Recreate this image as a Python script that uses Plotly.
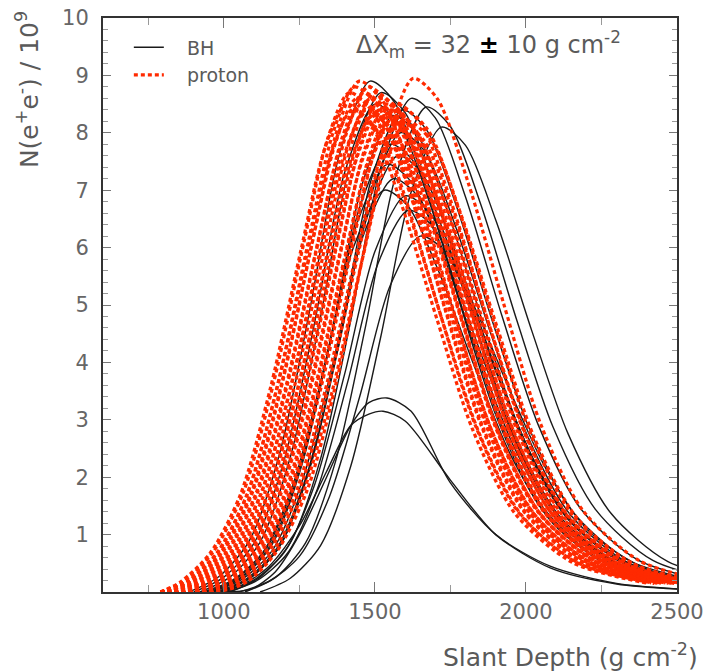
import plotly.graph_objects as go

# ---- BH (black solid) shower profiles: slant depth (g cm^-2) and N(e+e-)/1e9 ----
BH_X = [
    [884, 984, 1084, 1184, 1284, 1384, 1484, 1564, 1664, 1784, 1904, 2044, 2234, 2484],
    [1020, 1120, 1220, 1320, 1420, 1520, 1620, 1700, 1800, 1920, 2040, 2180, 2370, 2620],
    [1070, 1170, 1270, 1370, 1470, 1570, 1670, 1750, 1850, 1970, 2090, 2230, 2420, 2670],
    [1120, 1220, 1320, 1420, 1520, 1620, 1720, 1800, 1900, 2020, 2140, 2280, 2470, 2720],
    [960, 1060, 1160, 1260, 1360, 1460, 1560, 1640, 1740, 1860, 1980, 2120, 2310, 2560],
    [985, 1085, 1185, 1285, 1385, 1485, 1585, 1665, 1765, 1885, 2005, 2145, 2335, 2585],
    [950, 1050, 1150, 1250, 1350, 1450, 1550, 1630, 1730, 1850, 1970, 2110, 2300, 2550],
    [975, 1075, 1175, 1275, 1375, 1475, 1575, 1655, 1755, 1875, 1995, 2135, 2325, 2575],
    [940, 1040, 1140, 1240, 1340, 1440, 1540, 1620, 1720, 1840, 1960, 2100, 2290, 2540],
    [960, 1060, 1160, 1260, 1360, 1460, 1560, 1640, 1740, 1860, 1980, 2120, 2310, 2560],
    [930, 1030, 1130, 1230, 1330, 1430, 1530, 1610, 1710, 1830, 1950, 2090, 2280, 2530],
    [1000, 1100, 1200, 1300, 1400, 1500, 1600, 1680, 1780, 1900, 2020, 2160, 2350, 2600],
    [1010, 1110, 1210, 1310, 1410, 1510, 1610, 1690, 1790, 1910, 2030, 2170, 2360, 2610],
    [1050, 1150, 1250, 1350, 1450, 1550, 1650, 1730, 1830, 1950, 2070, 2210, 2400, 2650],
    [1000, 1090, 1170, 1250, 1340, 1420, 1480, 1540, 1620, 1750, 1900, 2080, 2300, 2550],
    [950, 1050, 1150, 1250, 1340, 1420, 1480, 1527, 1600, 1750, 1900, 2080, 2300, 2550],
    [900, 1000, 1100, 1200, 1300, 1400, 1500, 1580, 1680, 1800, 1920, 2060, 2250, 2500],
    [920, 1020, 1120, 1220, 1320, 1420, 1520, 1600, 1700, 1820, 1940, 2080, 2270, 2520],
    [990, 1090, 1190, 1290, 1390, 1490, 1590, 1670, 1770, 1890, 2010, 2150, 2340, 2590],
]
BH_Y = [
    [0, 0.27, 0.89, 2.40, 4.90, 7.65, 8.9, 8.54, 7.12, 4.98, 3.03, 1.51, 0.58, 0.18],
    [0, 0.26, 0.86, 2.32, 4.73, 7.40, 8.6, 8.26, 6.88, 4.82, 2.92, 1.46, 0.56, 0.17],
    [0, 0.25, 0.85, 2.28, 4.65, 7.27, 8.45, 8.11, 6.76, 4.73, 2.87, 1.44, 0.55, 0.17],
    [0, 0.24, 0.81, 2.19, 4.46, 6.97, 8.1, 7.78, 6.48, 4.54, 2.75, 1.38, 0.53, 0.16],
    [0, 0.25, 0.83, 2.24, 4.57, 7.14, 8.3, 7.97, 6.64, 4.65, 2.82, 1.41, 0.54, 0.17],
    [0, 0.24, 0.80, 2.16, 4.40, 6.88, 8.0, 7.68, 6.40, 4.48, 2.72, 1.36, 0.52, 0.16],
    [0, 0.23, 0.78, 2.11, 4.29, 6.71, 7.8, 7.49, 6.24, 4.37, 2.65, 1.33, 0.51, 0.16],
    [0, 0.23, 0.76, 2.05, 4.18, 6.54, 7.6, 7.30, 6.08, 4.26, 2.58, 1.29, 0.49, 0.15],
    [0, 0.22, 0.75, 2.01, 4.10, 6.41, 7.45, 7.15, 5.96, 4.17, 2.53, 1.27, 0.48, 0.15],
    [0, 0.22, 0.72, 1.94, 3.96, 6.19, 7.2, 6.91, 5.76, 4.03, 2.45, 1.22, 0.47, 0.14],
    [0, 0.21, 0.70, 1.89, 3.85, 6.02, 7.0, 6.72, 5.60, 3.92, 2.38, 1.19, 0.46, 0.14],
    [0, 0.21, 0.69, 1.86, 3.80, 5.93, 6.9, 6.62, 5.52, 3.86, 2.35, 1.17, 0.45, 0.14],
    [0, 0.20, 0.67, 1.80, 3.66, 5.72, 6.65, 6.38, 5.32, 3.72, 2.26, 1.13, 0.43, 0.13],
    [0, 0.19, 0.62, 1.67, 3.41, 5.33, 6.2, 5.95, 4.96, 3.47, 2.11, 1.05, 0.40, 0.12],
    [0, 0.05, 0.35, 1.0, 2.0, 2.9, 3.3, 3.38, 3.15, 1.9, 1.0, 0.45, 0.15, 0.04],
    [0, 0.1, 0.45, 1.15, 2.1, 2.9, 3.1, 3.15, 2.98, 1.95, 1.0, 0.42, 0.14, 0.04],
    [0, 0.26, 0.85, 2.30, 4.68, 7.31, 8.5, 8.16, 6.80, 4.76, 2.89, 1.45, 0.55, 0.17],
    [0, 0.26, 0.87, 2.35, 4.79, 7.48, 8.7, 8.35, 6.96, 4.87, 2.96, 1.48, 0.57, 0.17],
    [0, 0.25, 0.84, 2.27, 4.62, 7.22, 8.4, 8.06, 6.72, 4.70, 2.86, 1.43, 0.55, 0.17],
]

# ---- proton (red dashed) shower profiles ----
P_X = [
    [790, 855, 955, 1055, 1155, 1255, 1335, 1405, 1485, 1585, 1705, 1825, 1965, 2155, 2405],
    [790, 865, 965, 1065, 1165, 1265, 1345, 1415, 1495, 1595, 1715, 1835, 1975, 2165, 2415],
    [790, 875, 975, 1075, 1175, 1275, 1355, 1425, 1505, 1605, 1725, 1845, 1985, 2175, 2425],
    [790, 882, 982, 1082, 1182, 1282, 1362, 1432, 1512, 1612, 1732, 1852, 1992, 2182, 2432],
    [790, 890, 990, 1090, 1190, 1290, 1370, 1440, 1520, 1620, 1740, 1860, 2000, 2190, 2440],
    [790, 798, 898, 998, 1098, 1198, 1298, 1378, 1448, 1528, 1628, 1748, 1868, 2008, 2198, 2448],
    [790, 805, 905, 1005, 1105, 1205, 1305, 1385, 1455, 1535, 1635, 1755, 1875, 2015, 2205, 2455],
    [790, 812, 912, 1012, 1112, 1212, 1312, 1392, 1462, 1542, 1642, 1762, 1882, 2022, 2212, 2462],
    [790, 820, 920, 1020, 1120, 1220, 1320, 1400, 1470, 1550, 1650, 1770, 1890, 2030, 2220, 2470],
    [790, 827, 927, 1027, 1127, 1227, 1327, 1407, 1477, 1557, 1657, 1777, 1897, 2037, 2227, 2477],
    [790, 835, 935, 1035, 1135, 1235, 1335, 1415, 1485, 1565, 1665, 1785, 1905, 2045, 2235, 2485],
    [790, 842, 942, 1042, 1142, 1242, 1342, 1422, 1492, 1572, 1672, 1792, 1912, 2052, 2242, 2492],
    [790, 850, 950, 1050, 1150, 1250, 1350, 1430, 1500, 1580, 1680, 1800, 1920, 2060, 2250, 2500],
    [790, 858, 958, 1058, 1158, 1258, 1358, 1438, 1508, 1588, 1688, 1808, 1928, 2068, 2258, 2508],
    [790, 865, 965, 1065, 1165, 1265, 1365, 1445, 1515, 1595, 1695, 1815, 1935, 2075, 2265, 2515],
    [790, 873, 973, 1073, 1173, 1273, 1373, 1453, 1523, 1603, 1703, 1823, 1943, 2083, 2273, 2523],
    [790, 880, 980, 1080, 1180, 1280, 1380, 1460, 1530, 1610, 1710, 1830, 1950, 2090, 2280, 2530],
    [790, 888, 988, 1088, 1188, 1288, 1388, 1468, 1538, 1618, 1718, 1838, 1958, 2098, 2288, 2538],
    [790, 896, 996, 1096, 1196, 1296, 1396, 1476, 1546, 1626, 1726, 1846, 1966, 2106, 2296, 2546],
    [790, 904, 1004, 1104, 1204, 1304, 1404, 1484, 1554, 1634, 1734, 1854, 1974, 2114, 2304, 2554],
    [790, 912, 1012, 1112, 1212, 1312, 1412, 1492, 1562, 1642, 1742, 1862, 1982, 2122, 2312, 2562],
    [790, 922, 1022, 1122, 1222, 1322, 1422, 1502, 1572, 1652, 1752, 1872, 1992, 2132, 2322, 2572],
    [790, 932, 1032, 1132, 1232, 1332, 1432, 1512, 1582, 1662, 1762, 1882, 2002, 2142, 2332, 2582],
    [790, 944, 1044, 1144, 1244, 1344, 1444, 1524, 1594, 1674, 1774, 1894, 2014, 2154, 2344, 2594],
    [790, 956, 1056, 1156, 1256, 1356, 1456, 1536, 1606, 1686, 1786, 1906, 2026, 2166, 2356, 2606],
    [790, 977, 1077, 1177, 1277, 1377, 1477, 1557, 1627, 1707, 1807, 1927, 2047, 2187, 2377, 2627],
]
P_Y = [
    [0, 0.17, 0.68, 1.70, 3.57, 5.95, 7.74, 8.5, 8.16, 6.80, 4.76, 2.81, 1.36, 0.51, 0.15],
    [0, 0.17, 0.70, 1.74, 3.65, 6.09, 7.92, 8.7, 8.35, 6.96, 4.87, 2.87, 1.39, 0.52, 0.16],
    [0, 0.17, 0.67, 1.68, 3.53, 5.88, 7.64, 8.4, 8.06, 6.72, 4.70, 2.77, 1.34, 0.50, 0.15],
    [0, 0.18, 0.70, 1.76, 3.70, 6.16, 8.01, 8.8, 8.45, 7.04, 4.93, 2.90, 1.41, 0.53, 0.16],
    [0, 0.17, 0.69, 1.72, 3.61, 6.02, 7.83, 8.6, 8.26, 6.88, 4.82, 2.84, 1.38, 0.52, 0.15],
    [0, 0, 0.18, 0.71, 1.78, 3.74, 6.23, 8.10, 8.9, 8.54, 7.12, 4.98, 2.94, 1.42, 0.53, 0.16],
    [0, 0, 0.17, 0.68, 1.70, 3.57, 5.95, 7.74, 8.5, 8.16, 6.80, 4.76, 2.81, 1.36, 0.51, 0.15],
    [0, 0, 0.17, 0.70, 1.74, 3.65, 6.09, 7.92, 8.7, 8.35, 6.96, 4.87, 2.87, 1.39, 0.52, 0.16],
    [0, 0, 0.17, 0.67, 1.68, 3.53, 5.88, 7.64, 8.4, 8.06, 6.72, 4.70, 2.77, 1.34, 0.50, 0.15],
    [0, 0, 0.18, 0.70, 1.76, 3.70, 6.16, 8.01, 8.8, 8.45, 7.04, 4.93, 2.90, 1.41, 0.53, 0.16],
    [0, 0, 0.17, 0.69, 1.72, 3.61, 6.02, 7.83, 8.6, 8.26, 6.88, 4.82, 2.84, 1.38, 0.52, 0.15],
    [0, 0, 0.17, 0.66, 1.66, 3.49, 5.81, 7.55, 8.3, 7.97, 6.64, 4.65, 2.74, 1.33, 0.50, 0.15],
    [0, 0, 0.17, 0.70, 1.74, 3.65, 6.09, 7.92, 8.7, 8.35, 6.96, 4.87, 2.87, 1.39, 0.52, 0.16],
    [0, 0, 0.17, 0.68, 1.70, 3.57, 5.95, 7.74, 8.5, 8.16, 6.80, 4.76, 2.81, 1.36, 0.51, 0.15],
    [0, 0, 0.17, 0.67, 1.68, 3.53, 5.88, 7.64, 8.4, 8.06, 6.72, 4.70, 2.77, 1.34, 0.50, 0.15],
    [0, 0, 0.17, 0.69, 1.72, 3.61, 6.02, 7.83, 8.6, 8.26, 6.88, 4.82, 2.84, 1.38, 0.52, 0.15],
    [0, 0, 0.17, 0.66, 1.66, 3.49, 5.81, 7.55, 8.3, 7.97, 6.64, 4.65, 2.74, 1.33, 0.50, 0.15],
    [0, 0, 0.17, 0.68, 1.70, 3.57, 5.95, 7.74, 8.5, 8.16, 6.80, 4.76, 2.81, 1.36, 0.51, 0.15],
    [0, 0, 0.16, 0.66, 1.64, 3.44, 5.74, 7.46, 8.2, 7.87, 6.56, 4.59, 2.71, 1.31, 0.49, 0.15],
    [0, 0, 0.17, 0.67, 1.68, 3.53, 5.88, 7.64, 8.4, 8.06, 6.72, 4.70, 2.77, 1.34, 0.50, 0.15],
    [0, 0, 0.17, 0.66, 1.66, 3.49, 5.81, 7.55, 8.3, 7.97, 6.64, 4.65, 2.74, 1.33, 0.50, 0.15],
    [0, 0, 0.17, 0.68, 1.70, 3.57, 5.95, 7.74, 8.5, 8.16, 6.80, 4.76, 2.81, 1.36, 0.51, 0.15],
    [0, 0, 0.16, 0.66, 1.64, 3.44, 5.74, 7.46, 8.2, 7.87, 6.56, 4.59, 2.71, 1.31, 0.49, 0.15],
    [0, 0, 0.17, 0.67, 1.68, 3.53, 5.88, 7.64, 8.4, 8.06, 6.72, 4.70, 2.77, 1.34, 0.50, 0.15],
    [0, 0, 0.16, 0.66, 1.64, 3.44, 5.74, 7.46, 8.2, 7.87, 6.56, 4.59, 2.71, 1.31, 0.49, 0.15],
    [0, 0, 0.18, 0.72, 1.79, 3.76, 6.27, 8.14, 8.95, 8.59, 7.16, 5.01, 2.95, 1.43, 0.54, 0.16],
]

X_TICKS = [1000, 1500, 2000, 2500]
Y_TICKS = [1, 2, 3, 4, 5, 6, 7, 8, 9, 10]

TXT = "#5a5a5a"
FONT = "'DejaVu Sans', sans-serif"
NB = "\u00a0\u00a0\u00a0"

fig = go.Figure()
for i, (xs, ys) in enumerate(zip(BH_X, BH_Y)):
    fig.add_trace(go.Scatter(
        x=xs, y=ys, mode="lines", name=NB + "BH", legendgroup="BH",
        showlegend=(i == 0),
        line=dict(color="#1a1a1a", width=1.4, shape="spline", smoothing=0.8),
    ))
for i, (xs, ys) in enumerate(zip(P_X, P_Y)):
    fig.add_trace(go.Scatter(
        x=xs, y=ys, mode="lines", name=NB + "proton", legendgroup="proton",
        showlegend=(i == 0),
        line=dict(color="#ff2a00", width=3.2, dash="4px,3px", shape="spline", smoothing=0.8),
    ))

axis_common = dict(
    showgrid=False, zeroline=False, showline=True, linecolor="#333333", linewidth=2,
    mirror="ticks", ticks="inside", tickcolor="#777777", tickwidth=1, automargin=False,
    tickfont=dict(family=FONT, size=21, color="#666666"),
)
fig.update_xaxes(
    range=[600, 2500], tickvals=X_TICKS, ticklen=10,
    minor=dict(dtick=250, tick0=0, ticks="inside", ticklen=7, tickcolor="#999999"),
    **axis_common,
)
fig.update_yaxes(
    range=[0, 10], tickvals=Y_TICKS, ticklen=8, ticklabelstandoff=8,
    minor=dict(dtick=0.2, tick0=0, ticks="inside", ticklen=5, tickcolor="#999999"),
    **axis_common,
)

fig.add_annotation(
    text="N(e<sup>+</sup>e<sup>-</sup>) / 10<sup>9</sup>", textangle=-90,
    xref="paper", yref="paper", x=-0.131, y=1.016, xanchor="center", yanchor="top",
    showarrow=False, font=dict(family=FONT, size=25, color=TXT),
)
fig.add_annotation(
    text="Slant Depth (g cm<sup>-2</sup>)",
    xref="paper", yref="paper", x=1.04, y=-0.11, xanchor="right", yanchor="middle",
    showarrow=False, font=dict(family=FONT, size=25, color=TXT),
)
fig.add_annotation(
    text="ΔX<sub>m</sub> = 32 <b><span style='color:#000'>±</span></b> 10 g cm<sup>-2</sup>",
    xref="paper", yref="paper", x=0.437, y=0.953, xanchor="left", yanchor="middle",
    showarrow=False, font=dict(family=FONT, size=24, color=TXT),
)

fig.update_layout(
    width=709, height=671,
    margin=dict(l=103, r=32, t=18, b=79, autoexpand=False),
    paper_bgcolor="white", plot_bgcolor="white",
    showlegend=True,
    legend=dict(
        x=0.045, y=0.982, xanchor="left", yanchor="top",
        bgcolor="rgba(0,0,0,0)", font=dict(family=FONT, size=19, color=TXT),
        tracegroupgap=0,
    ),
)

fig.write_html("out.html")
